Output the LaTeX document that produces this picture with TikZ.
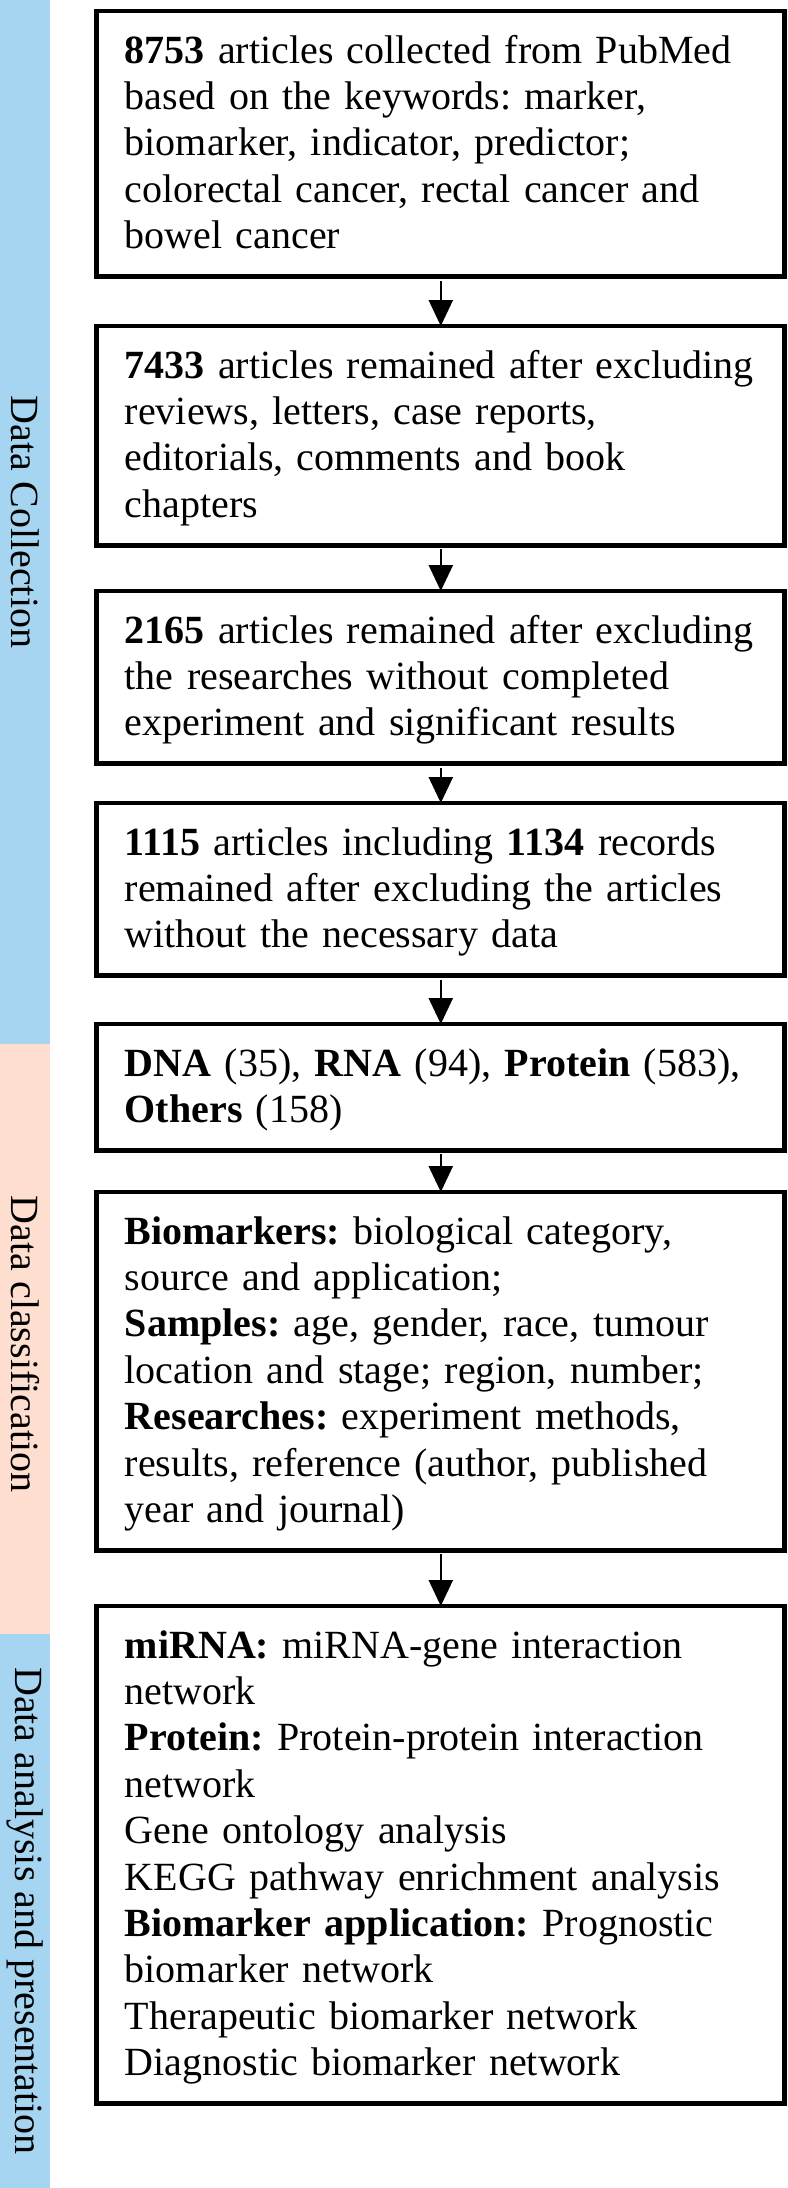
\documentclass[tikz,border=0pt]{standalone}
\usepackage{fontspec}
\setmainfont{Liberation Serif}
\usetikzlibrary{arrows.meta}
\definecolor{BandBlue}{RGB}{165,213,241}
\definecolor{BandPink}{RGB}{253,222,207}
\newcommand\topstr{\rule{0pt}{9pt}}
\newcommand\botstr{\rule[-3pt]{0pt}{3pt}}
\frenchspacing

\begin{document}
\begin{tikzpicture}[x=1pt,y=1pt,
  flowbox/.style={draw,line width=1.2pt,outer sep=0pt,anchor=north,
    text width=158pt,align=left,inner xsep=7pt,inner ysep=4pt,
    font=\fontsize{10}{11.6}\selectfont},
  bandlabel/.style={rotate=-90,font=\fontsize{10}{11.6}\selectfont},
  flowarrow/.style={line width=.6pt,-{Triangle[width=6pt,length=6.5pt]},shorten <=1pt}]
\def\boxx{110.2}
\useasboundingbox (0,0) rectangle (197,-547);
% side bands
\fill[BandBlue] (0,0) rectangle (12.5,-261);
\fill[BandPink] (0,-261) rectangle (12.5,-408.5);
\fill[BandBlue] (0,-408.5) rectangle (12.5,-547);
\node[bandlabel] (collect) at (6.25,-130.5) {Data Collection};
\node[bandlabel] (classify) at (6.25,-336) {Data classification};
\node[bandlabel] (analysis) at (6.25,-477.75) {Data analysis and presentation};

\node[flowbox] (pubmed) at (\boxx,-2.75) {\topstr\textbf{8753} articles collected from PubMed\\
based on the keywords: marker,\\
biomarker, indicator, predictor;\\
colorectal cancer, rectal cancer and\\
bowel cancer\botstr};
\node[flowbox] (reviews) at (\boxx,-81.5) {\topstr\textbf{7433} articles remained after excluding\\
reviews, letters, case reports,\\
editorials, comments and book\\
chapters\botstr};
\node[flowbox] (results) at (\boxx,-147.75) {\topstr\textbf{2165} articles remained after excluding\\
the researches without completed\\
experiment and significant results\botstr};
\node[flowbox] (records) at (\boxx,-200.75) {\topstr\textbf{1115} articles including \textbf{1134} records\\
remained after excluding the articles\\
without the necessary data\botstr};
\node[flowbox] (category) at (\boxx,-256) {\topstr\textbf{DNA} (35), \textbf{RNA} (94), \textbf{Protein} (583),\\
\textbf{Others} (158)\botstr};
\node[flowbox] (fields) at (\boxx,-298) {\topstr\textbf{Biomarkers:} biological category,\\
source and application;\\
\textbf{Samples:} age, gender, race, tumour\\
location and stage; region, number;\\
\textbf{Researches:} experiment methods,\\
results, reference (author, published\\
year and journal)\botstr};
\node[flowbox] (network) at (\boxx,-401.5) {\topstr\textbf{miRNA:} miRNA-gene interaction\\
network\\
\textbf{Protein:} Protein-protein interaction\\
network\\
Gene ontology analysis\\
KEGG pathway enrichment analysis\\
\textbf{Biomarker application:} Prognostic\\
biomarker network\\
Therapeutic biomarker network\\
Diagnostic biomarker network\botstr};

\draw[flowarrow] (pubmed) -- (reviews);
\draw[flowarrow] (reviews) -- (results);
\draw[flowarrow] (results) -- (records);
\draw[flowarrow] (records) -- (category);
\draw[flowarrow] (category) -- (fields);
\draw[flowarrow] (fields) -- (network);

\end{tikzpicture}
\end{document}
